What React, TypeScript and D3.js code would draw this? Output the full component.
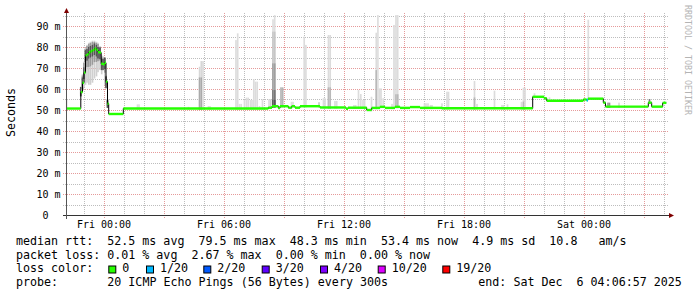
import React from "react";
import * as d3 from "d3";

const W = 697;
const H = 297;

// hours relative to Fri 00:00
const START_HOUR = -1.885;
const END_HOUR = 28.115;
const STEP_HOURS = 1 / 12; // 300 s

// median rtt, step breakpoints: [hour, ms]
const medianSteps: [number, number][] = [
  [-1.885, 50.7], [-1.16, 58.5], [-1.075, 63], [-1.0, 67.8], [-0.925, 76],
  [-0.85, 76.5], [-0.76, 77.5], [-0.675, 78], [-0.575, 78.5], [-0.475, 79.2],
  [-0.375, 78.5], [-0.3, 77.5], [-0.2, 77.3], [-0.14, 72], [-0.05, 71.8],
  [0.04, 72.5], [0.1, 63.5], [0.175, 53], [0.235, 48.1], [0.965, 50.7],
  [8.215, 51.1], [8.4, 51.8], [8.715, 50.9], [8.8, 51.8], [9.215, 51.1],
  [9.385, 51.8], [9.55, 51.1], [9.8, 51.8], [10.8, 51.2], [12.1, 50.6],
  [12.2, 51.1], [13.135, 50.0], [13.385, 51.0], [13.8, 51.5], [14.05, 51.0],
  [14.55, 51.5], [14.8, 51.0], [15.3, 51.4], [15.8, 51.0], [16.9, 50.8],
  [21.435, 56.3], [22.0, 55.6], [22.135, 54.4], [23.965, 55.0], [24.13, 54.7],
  [24.2, 55.4], [24.965, 53.5], [25.075, 51.6], [27.215, 53.5], [27.385, 51.6],
  [27.935, 53.4],
];

// loss spans: [fromHour, toHour, loss color index]
const lossSpans: [number, number, number][] = [[24.13, 24.2, 1]];

// smoke spikes: [hour, top ms, gray level]
const smokeSpikes: [number, number, number][] = [
  [-1.865, 54.8, 220],
  [1.675, 52.7, 222], [1.75, 52.7, 222],
  [4.225, 51.5, 222],
  [4.78, 70.6, 215], [4.78, 65.5, 170], [4.865, 73.3, 215], [4.865, 65.5, 170], [4.95, 73.3, 218],
  [5.225, 51.9, 222], [5.3, 51.9, 222],
  [6.6, 83.3, 220], [6.685, 86.5, 220],
  [6.775, 52.9, 222], [6.86, 52.9, 222],
  [7.025, 54.8, 220], [7.125, 55.9, 220], [7.21, 55.9, 220], [7.325, 54.8, 220], [7.4, 54.8, 220],
  [7.49, 64.6, 220], [7.575, 63.5, 220], [7.66, 63.5, 220], [7.775, 51.9, 222], [7.925, 55.1, 220],
  [8.25, 55.1, 220], [8.335, 55.1, 205],
  [8.45, 93.2, 222], [8.45, 87.3, 198], [8.45, 72.2, 160], [8.45, 59.5, 120], [8.45, 54.8, 85],
  [8.535, 95.2, 222], [8.535, 87.3, 198], [8.535, 72.2, 160], [8.535, 59.5, 120], [8.535, 54.8, 85],
  [8.85, 60.8, 180], [8.935, 60.8, 180],
  [9.375, 53.9, 220], [9.45, 53.9, 220],
  [10.01, 84.9, 220], [10.095, 81, 220],
  [10.75, 53.7, 200],
  [10.975, 55.6, 220], [11.05, 55.6, 220],
  [11.225, 85.7, 220], [11.225, 60.8, 185], [11.31, 85.7, 220], [11.31, 60.8, 185],
  [11.55, 54.3, 220], [11.635, 54.3, 220],
  [12.5, 52.4, 220], [12.585, 52.4, 220],
  [12.725, 59.5, 220], [12.84, 57.6, 220], [12.95, 54.8, 220], [13.03, 54.8, 220],
  [13.375, 56.3, 220],
  [13.615, 86.8, 220], [13.615, 69, 185], [13.695, 95.2, 222],
  [13.775, 60.3, 220], [13.85, 60.3, 220], [13.96, 55.6, 220],
  [14.4, 52.9, 220],
  [14.5, 90.5, 220], [14.6, 95.2, 220], [14.6, 57.5, 185], [14.685, 95.2, 220], [14.685, 57.5, 185],
  [16.025, 53.2, 220], [16.1, 53.2, 220], [16.2, 53.2, 220], [16.325, 52.4, 220], [16.4, 52.4, 220],
  [16.9, 53.2, 220],
  [17.15, 58.7, 220], [17.225, 58.7, 220],
  [18.525, 63.8, 220], [18.525, 56, 185], [18.65, 52.9, 220],
  [19.525, 59.2, 220],
  [19.9, 52.4, 220], [19.975, 52.4, 220], [20.175, 52.7, 220],
  [20.875, 53.9, 220], [20.975, 60.6, 220], [20.975, 54, 185], [21.05, 60.6, 220],
  [21.525, 58, 220],
  [22.275, 56, 220],
  [22.55, 55.1, 220],
  [24.215, 93, 222],
  [25.2, 53.5, 150], [25.275, 53.5, 150],
  [25.75, 53.5, 220],
  [27.275, 55.2, 120],
];

// smoke during the early evening hump: [hour, low ms, high ms]
const humpSmoke: [number, number, number][] = [
  [-1.16, 56.5, 61], [-1.075, 59, 67], [-1.0, 61, 73], [-0.925, 62, 79.5],
  [-0.85, 63, 81], [-0.76, 62, 82], [-0.675, 62, 82.5], [-0.575, 63, 83],
  [-0.475, 65, 83], [-0.375, 66, 82.5], [-0.3, 68, 82], [-0.2, 69, 80.5],
  [-0.115, 67, 76], [-0.05, 69, 75.5], [0.04, 62, 75], [0.1, 60, 66.5],
  [0.175, 51, 55],
];

const yMajorTicks = [10, 20, 30, 40, 50, 60, 70, 80, 90];
const yMinorTicks = [5, 15, 25, 35, 45, 55, 65, 75, 85, 95];
const yTickLabels = ["10 m", "20 m", "30 m", "40 m", "50 m", "60 m", "70 m", "80 m", "90 m"];
const xTickHours = [0, 6, 12, 18, 24];
const xTickLabels = ["Fri 00:00", "Fri 06:00", "Fri 12:00", "Fri 18:00", "Sat 00:00"];
const xGridHours = d3.range(-1, 29);

const lossLabels = ["0", "1/20", "2/20", "3/20", "4/20", "10/20", "19/20"];
const lossColors = ["#26ff00", "#00b8ff", "#0059ff", "#5e00ff", "#7e00ff", "#dd00ff", "#ff0000"];
const lossSwatchX = [108.3, 146, 203.3, 261.7, 320, 377.7, 442.3];

const legendLine1 = "median rtt:  52.5 ms avg  79.5 ms max  48.3 ms min  53.4 ms now  4.9 ms sd  10.8   am/s";
const legendLine2 = "packet loss: 0.01 % avg  2.67 % max  0.00 % min  0.00 % now";
const legendLine3 = "loss color:";
const legendLine4a = "probe:";
const legendLine4b = "20 ICMP Echo Pings (56 Bytes) every 300s";
const legendLine4c = "end: Sat Dec  6 04:06:57 2025";

const MONO = "'DejaVu Sans Mono', monospace";
const PRE: React.CSSProperties = { whiteSpace: "pre" };

export default function App() {
  const x = d3.scaleLinear().domain([START_HOUR, END_HOUR]).range([66.3, 666.3]);
  const y = d3.scaleLinear().domain([0, 100]).range([215, 5]);
  const colW = x(STEP_HOURS) - x(0);

  const medianAt = (h: number) => {
    let v = medianSteps[0][1];
    for (const [t, m] of medianSteps) if (t <= h + 1e-9) v = m;
    return v;
  };

  const stepPts: [number, number][] = [...medianSteps, [END_HOUR, medianSteps[medianSteps.length - 1][1]]];
  const blackLine = d3
    .line<[number, number]>()
    .x((d) => x(d[0]))
    .y((d) => y(d[1]))
    .curve(d3.curveStepAfter)(stepPts);

  const gray = (g: number) => `rgb(${g},${g},${g})`;

  const plotLeft = 63;
  const plotRight = 668.5;

  return (
    <svg
      width={W}
      height={H}
      style={{ position: "absolute", left: 0, top: 0, background: "#fff" }}
      fontFamily={MONO}
    >
      <rect x={0} y={0} width={W} height={H} fill="#fff" />

      {/* grid */}
      {yMinorTicks.map((v) => (
        <line key={"hm" + v} x1={plotLeft} x2={plotRight} y1={Math.round(y(v)) + 0.5} y2={Math.round(y(v)) + 0.5}
          stroke="#bdbdbd" strokeDasharray="1,1" />
      ))}
      {xGridHours.filter((h) => h % 3 !== 0).map((h) => (
        <line key={"vm" + h} x1={Math.round(x(h)) + 0.5} x2={Math.round(x(h)) + 0.5} y1={13} y2={217}
          stroke="#bdbdbd" strokeDasharray="1,1" />
      ))}
      {yMajorTicks.map((v) => (
        <line key={"hM" + v} x1={plotLeft} x2={plotRight} y1={Math.round(y(v)) + 0.5} y2={Math.round(y(v)) + 0.5}
          stroke="#e59a9a" strokeDasharray="1,1" />
      ))}
      {xGridHours.filter((h) => h % 3 === 0).map((h) => (
        <line key={"vM" + h} x1={Math.round(x(h)) + 0.5} x2={Math.round(x(h)) + 0.5} y1={13} y2={219}
          stroke="#e59a9a" strokeDasharray="1,1" />
      ))}

      {/* smoke spikes */}
      {smokeSpikes.map(([h, top, g], i) => {
        const base = medianAt(h) - 0.6;
        return (
          <rect key={"s" + i} x={x(h) - colW / 2} width={colW} y={y(top)} height={Math.max(0, y(base) - y(top))}
            fill={gray(g)} />
        );
      })}

      {/* hump smoke with shading toward the median */}
      {humpSmoke.map(([h, lo, hi], i) => {
        const m = medianAt(h);
        const midLo = m - 0.45 * (m - lo);
        const coreLo = Math.max(lo, m - 3);
        const coreHi = Math.min(hi, m + 2.5);
        return (
          <g key={"h" + i}>
            <rect x={x(h) - colW / 2} width={colW} y={y(hi)} height={y(lo) - y(hi)} fill="#cfcfcf" />
            <rect x={x(h) - colW / 2} width={colW} y={y(hi - 0.6)} height={Math.max(0, y(midLo) - y(hi - 0.6))} fill="#9a9a9a" />
            <rect x={x(h) - colW / 2} width={colW} y={y(coreHi)} height={Math.max(0, y(coreLo) - y(coreHi))} fill="#555" />
          </g>
        );
      })}

      {/* median */}
      <path d={blackLine ?? ""} fill="none" stroke="#000" strokeWidth={1} />
      {stepPts.slice(0, -1).map(([h, v], i) => (
        <line key={"g" + i} x1={x(h)} x2={x(stepPts[i + 1][0])} y1={y(v)} y2={y(v)}
          stroke={lossColors[0]} strokeWidth={2.4} />
      ))}
      {lossSpans.map(([a, b, k], i) => (
        <line key={"l" + i} x1={x(a)} x2={x(b)} y1={y(medianAt(a))} y2={y(medianAt(a))}
          stroke={lossColors[k]} strokeWidth={2.6} />
      ))}

      {/* axes */}
      <line x1={63} x2={669} y1={215.5} y2={215.5} stroke="#333" />
      <line x1={66.5} x2={66.5} y1={12} y2={219} stroke="#555" />
      <path d="M64,13 L66.5,8 L69,13 Z" fill="#7f0000" />
      <path d="M669,213 L674,215.5 L669,218 Z" fill="#7f0000" />

      {/* y labels */}
      {yMajorTicks.map((v, i) => (
        <text key={"yl" + v} x={60.5} y={y(v) + 3.6} textAnchor="end" fontSize={10} fill="#000">
          {yTickLabels[i]}
        </text>
      ))}
      <text x={42.4} y={y(0) + 3.6} fontSize={10} fill="#000">0</text>

      {/* x labels */}
      {xTickHours.map((h, i) => (
        <text key={"xl" + h} x={x(h)} y={228} textAnchor="middle" fontSize={10} fill="#000">
          {xTickLabels[i]}
        </text>
      ))}

      {/* vertical axis title */}
      <text transform="translate(15,112.5) rotate(-90)" textAnchor="middle" fontSize={11.67} fill="#000">
        Seconds
      </text>

      {/* watermark */}
      <text transform="translate(685,60) rotate(90)" textAnchor="middle" fontSize={8.3} fill="#b4b4b4">
        RRDTOOL / TOBI OETIKER
      </text>

      {/* legend */}
      <g fontSize={11.67} fill="#000">
        <text x={16} y={245} xmlSpace="preserve" style={PRE}>{legendLine1}</text>
        <text x={16} y={258.7} xmlSpace="preserve" style={PRE}>{legendLine2}</text>
        <text x={16} y={272.4} xmlSpace="preserve" style={PRE}>{legendLine3}</text>
        {lossLabels.map((lab, i) => (
          <g key={"lc" + i}>
            <rect x={lossSwatchX[i] + 0.5} y={266} width={7} height={7} fill={lossColors[i]} stroke="#000" strokeWidth={1} />
            <text x={lossSwatchX[i] + 14} y={272.4}>{lab}</text>
          </g>
        ))}
        <text x={16} y={286} xmlSpace="preserve" style={PRE}>{legendLine4a}</text>
        <text x={107.3} y={286} xmlSpace="preserve" style={PRE}>{legendLine4b}</text>
        <text x={478.3} y={286} xmlSpace="preserve" style={PRE}>{legendLine4c}</text>
      </g>
    </svg>
  );
}
